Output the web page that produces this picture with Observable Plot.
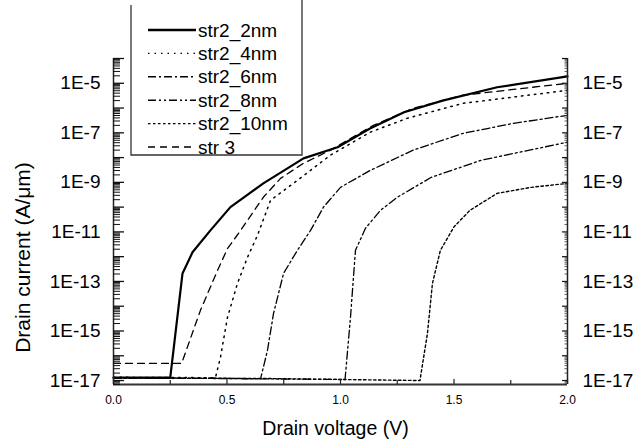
<!DOCTYPE html>
<html><head><meta charset="utf-8">
<script src="https://cdn.jsdelivr.net/npm/d3@7"></script>
<script src="https://cdn.jsdelivr.net/npm/@observablehq/plot@0.6"></script>
<style>
body{margin:0;background:#fff;}
#wrap{position:relative;width:635px;height:441px;overflow:hidden;}
#wrap svg{position:absolute;left:0;top:0;}
</style></head><body><div id="wrap"></div>
<script>
// ---- data ----
const seriesNames = ["str2_2nm","str2_4nm","str2_6nm","str2_8nm","str2_10nm","str 3"];

const v2nm = [0, 0.245, 0.25, 0.304, 0.348, 0.427, 0.515, 0.66, 0.837, 0.987, 1.13, 1.28, 1.45, 1.69, 2.0];
const i2nm = [1.3e-17, 1.3e-17, 1.3e-17, 2.1e-13, 1.5e-12, 1.15e-11, 1.0e-10, 9.1e-10, 9.3e-9, 2.6e-8, 1.5e-7, 6.8e-7, 2.0e-6, 6.9e-6, 1.9e-5];

const v4nm = [0, 0.449, 0.471, 0.502, 0.546, 0.59, 0.634, 0.692, 0.81, 0.956, 1.13, 1.295, 1.54, 2.0];
const i4nm = [1.35e-17, 1.3e-17, 8.5e-17, 3.5e-15, 8.3e-14, 9.3e-13, 7.2e-12, 1.9e-10, 1.2e-9, 1.26e-8, 1.05e-7, 3.9e-7, 1.55e-6, 5.2e-6];

const v6nm = [0, 0.648, 0.678, 0.705, 0.749, 0.81, 0.868, 0.925, 1.0, 1.13, 1.32, 1.54, 1.76, 2.0];
const i6nm = [1.25e-17, 1.2e-17, 1.6e-16, 5.1e-15, 2.1e-13, 1.8e-12, 1.15e-11, 1.0e-10, 6.3e-10, 3.0e-9, 2.0e-8, 9.5e-8, 2.4e-7, 5.1e-7];

const v8nm = [0, 1.02, 1.044, 1.057, 1.066, 1.11, 1.176, 1.25, 1.4, 1.62, 2.0];
const i8nm = [1.3e-17, 1.1e-17, 3.5e-15, 1.45e-13, 1.8e-12, 1.4e-11, 7.4e-11, 2.5e-10, 1.6e-9, 7.8e-9, 4.2e-8];

const v10nm = [0, 0.7, 1.35, 1.383, 1.405, 1.44, 1.5, 1.57, 1.69, 1.84, 2.0];
const i10nm = [1.3e-17, 1.2e-17, 1.0e-17, 7.9e-16, 8.3e-14, 1.8e-12, 1.6e-11, 7.4e-11, 3.6e-10, 6.3e-10, 9.1e-10];

const vStr3 = [0, 0.30, 0.383, 0.458, 0.502, 0.56, 0.66, 0.736, 0.837, 0.956, 1.145, 1.32, 1.54, 2.0];
const iStr3 = [4.9e-17, 4.9e-17, 6.8e-15, 2.75e-13, 2.1e-12, 1.15e-11, 2.5e-10, 1.45e-9, 5.9e-9, 2.0e-8, 2.0e-7, 9.8e-7, 3.3e-6, 1.0e-5];

const yTickVals = [1e-17, 1e-15, 1e-13, 1e-11, 1e-9, 1e-7, 1e-5];
const yTickLabels = ["1E-17","1E-15","1E-13","1E-11","1E-9","1E-7","1E-5"];
const xTickVals = [0, 0.5, 1.0, 1.5, 2.0];
const xTickLabels = ["0.0","0.5","1.0","1.5","2.0"];
const xMinorVals = [0.25, 0.75, 1.25, 1.75];

// ---- build ----
const W = 635, H = 441, mL = 113, mR = 68, mT = 58, mB = 57;
const yLo = Math.pow(10, -17.16), yHi = 1e-4;
const pxPerV = (W - mL - mR) / 2;
const decPx = (H - mT - mB) / (Math.log10(yHi) - Math.log10(yLo));
const dxV = px => px / pxPerV;
const yUp = (base, px) => base * Math.pow(10, px / decPx);

const rows = (vs, is) => vs.map((v, k) => ({v, i: is[k]}));
const styles = [
  {data: rows(v2nm, i2nm), strokeWidth: 2.2, dash: null},
  {data: rows(v4nm, i4nm), strokeWidth: 1.5, dash: "1.5,5"},
  {data: rows(v6nm, i6nm), strokeWidth: 1.3, dash: "8,3,2,3"},
  {data: rows(v8nm, i8nm), strokeWidth: 1.3, dash: "8,3,2,3,2,3"},
  {data: rows(v10nm, i10nm), strokeWidth: 1.4, dash: "2.5,2.5"},
  {data: rows(vStr3, iStr3), strokeWidth: 1.3, dash: "7,5"}
];

const majors = d3.range(-17, -3).map(e => Math.pow(10, e));
const minors = [];
for (let e = -18; e <= -5; e++) for (let k = 2; k <= 9; k++) {
  const val = k * Math.pow(10, e);
  if (val > yLo && val < yHi) minors.push(val);
}

const lineMarks = styles.map(s => Plot.line(s.data, {
  x: "v", y: "i", stroke: "#000", strokeWidth: s.strokeWidth,
  strokeDasharray: s.dash || undefined, strokeLinejoin: "round"
}));

const chart = Plot.plot({
  width: W, height: H,
  marginLeft: mL, marginRight: mR, marginTop: mT, marginBottom: mB,
  style: {fontFamily: "'Liberation Sans', Arial, sans-serif", background: "#fff", color: "#000"},
  x: {domain: [0, 2], axis: null},
  y: {type: "log", domain: [yLo, yHi], axis: null},
  marks: [
    ...lineMarks,
    // axis lines
    Plot.ruleX([0], {stroke: "#222", strokeWidth: 1.5}),
    Plot.ruleX([2], {stroke: "#222", strokeWidth: 1.5}),
    Plot.ruleY([yLo], {stroke: "#333", strokeWidth: 1.8}),
    // left ticks (inward)
    Plot.ruleY(majors, {y: d => d, x1: 0, x2: dxV(11), stroke: "#111", strokeWidth: 1.3}),
    Plot.ruleY(minors, {y: d => d, x1: 0, x2: dxV(7), stroke: "#111", strokeWidth: 1}),
    // right ticks
    Plot.ruleY(majors, {y: d => d, x1: 2 - dxV(5), x2: 2, stroke: "#111", strokeWidth: 1.2}),
    Plot.ruleY(minors, {y: d => d, x1: 2 - dxV(2.5), x2: 2, stroke: "#333", strokeWidth: 0.8}),
    // x ticks
    Plot.ruleX(xTickVals, {x: d => d, y1: yLo, y2: yUp(yLo, 5), stroke: "#222", strokeWidth: 1.2}),
    Plot.ruleX(xMinorVals, {x: d => d, y1: yLo, y2: yUp(yLo, 4), stroke: "#222", strokeWidth: 1.2}),
    // tick labels
    Plot.text(yTickVals, {y: d => d, text: (d, k) => yTickLabels[k], frameAnchor: "left", dx: -13, textAnchor: "end", lineAnchor: "middle", fontSize: 19, fill: "#000"}),
    Plot.text(yTickVals, {y: d => d, text: (d, k) => yTickLabels[k], frameAnchor: "right", dx: 15, textAnchor: "start", lineAnchor: "middle", fontSize: 19, fill: "#000"}),
    Plot.text(xTickVals, {x: d => d, text: (d, k) => xTickLabels[k], frameAnchor: "bottom", dy: 16, lineAnchor: "middle", fontSize: 12, fill: "#000"}),
    // titles
    Plot.text(["Drain voltage (V)"], {frameAnchor: "bottom", dy: 44, dx: -5, lineAnchor: "middle", textAnchor: "middle", fontSize: 19.5, fill: "#000"}),
    Plot.text(["Drain current (A/\u03bcm)"], {frameAnchor: "left", dx: -90, dy: 36, rotate: -90, textAnchor: "middle", lineAnchor: "middle", fontSize: 21, fill: "#000"})
  ]
});
document.getElementById("wrap").appendChild(chart);

// ---- legend overlay ----
const leg = d3.select("#wrap").append("svg").attr("width", W).attr("height", H)
  .style("pointer-events", "none").style("font-family", "'Liberation Sans', Arial, sans-serif");
leg.append("path").attr("d", "M131,5V155H302V0").attr("fill", "none").attr("stroke", "#333").attr("stroke-width", 1.3);
seriesNames.forEach((name, k) => {
  const y = 30 + 23.4 * k;
  const s = styles[k];
  leg.append("line").attr("x1", 148).attr("x2", 196).attr("y1", y).attr("y2", y)
    .attr("stroke", "#000").attr("stroke-width", k === 0 ? 2.4 : 1.4)
    .attr("stroke-dasharray", s.dash);
  leg.append("text").attr("x", 198).attr("y", y).attr("dy", "0.35em")
    .attr("font-size", 19).attr("fill", "#000").text(name);
});
</script></body></html>
